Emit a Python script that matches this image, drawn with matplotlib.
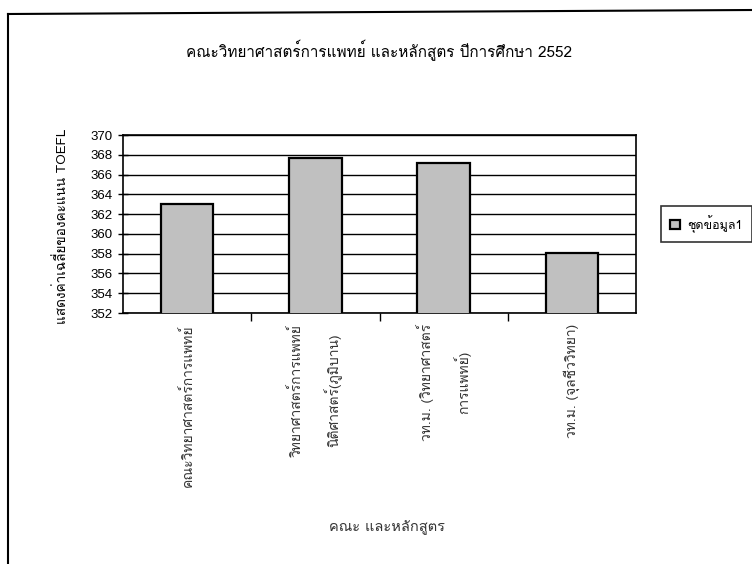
import matplotlib
matplotlib.use("Agg")
import matplotlib.pyplot as plt
from matplotlib import font_manager
from matplotlib.ft2font import FT2Font
from matplotlib.lines import Line2D

# ---- data ----
categories = [
    "คณะวิทยาศาสตร์การแพทย์",
    "วิทยาศาสตร์การแพทย์\nนิติศาสตร์(ภูมิบาน)",
    "วท.ม. (วิทยาศาสตร์\nการแพทย์)",
    "วท.ม. (จุลชีววิทยา)",
]
values = [363.0, 367.7, 367.2, 358.1]
yticks = [352, 354, 356, 358, 360, 362, 364, 366, 368, 370]
title = "คณะวิทยาศาสตร์การแพทย์ และหลักสูตร ปีการศึกษา 2552"
ylabel = "แสดงค่าเฉลี่ยของคะแนน TOEFL"
xlabel = "คณะ และหลักสูตร"
series_name = "ชุดข้อมูล1"

# ---- find a font with Thai glyphs ----
thai_font = None
seen = set()
for f in font_manager.fontManager.ttflist:
    if f.name in seen:
        continue
    try:
        cm = FT2Font(f.fname).get_charmap()
        if ord("ก") in cm and ord("ี") in cm:
            thai_font = f.name
            if "Thai" in f.name or "Loma" in f.name or "Garuda" in f.name:
                break
    except Exception:
        pass
    seen.add(f.name)

fams = ([thai_font] if thai_font else []) + ["Liberation Sans", "DejaVu Sans"]
plt.rcParams["font.family"] = fams

W, H = 752, 564
fig = plt.figure(figsize=(W / 100, H / 100), dpi=100)
ax = fig.add_axes([123 / W, 1 - 313 / H, (636 - 123) / W, (313 - 135) / H])

x = list(range(len(categories)))
ax.bar(x, values, width=0.41, bottom=0, color="#c0c0c0", edgecolor="black",
       linewidth=1.6, zorder=3, label=series_name)
ax.set_ylim(352, 370)
ax.set_xlim(-0.5, len(categories) - 0.5)
ax.set_yticks(yticks)
ax.set_yticklabels([str(t) for t in yticks], fontsize=9.5, family=["Liberation Sans"])
ax.yaxis.grid(True, color="black", linewidth=1.0, zorder=0)
ax.tick_params(axis="y", direction="inout", length=7, width=1, pad=4)

ax.set_xticks(x)
ax.set_xticklabels(categories, rotation=90, fontsize=10, color="#333333",
                   va="top", ha="center", multialignment="center",
                   linespacing=2.3)
ax.tick_params(axis="x", length=0, pad=8)
ax.set_xticks([i + 0.5 for i in range(len(categories) - 1)], minor=True)
ax.tick_params(axis="x", which="minor", direction="out", length=6, width=1)
for s in ax.spines.values():
    s.set_linewidth(1.2)
    s.set_color("black")

fig.text(379 / W, 1 - 50 / H, title, ha="center", va="center", fontsize=11)
fig.text(62 / W, 1 - 226 / H, ylabel, ha="center", va="center", rotation=90,
         fontsize=9.8)
fig.text(387 / W, 1 - 528 / H, xlabel, ha="center", va="center", fontsize=10.5,
         color="#333333")

leg = fig.legend(loc="center left", bbox_to_anchor=(655 / W, 1 - 224 / H),
                 frameon=True, fancybox=False, fontsize=9, handlelength=0.8,
                 handleheight=0.8, borderpad=0.7, handletextpad=0.6)
leg.get_frame().set_edgecolor("black")
leg.get_frame().set_linewidth(1.2)

# outer frame
fig.add_artist(Line2D([8 / W, 8 / W], [0, 1 - 14 / H], transform=fig.transFigure,
                      color="black", linewidth=1.5))
fig.add_artist(Line2D([8 / W, 1], [1 - 14 / H, 1 - 10 / H], transform=fig.transFigure,
                      color="black", linewidth=1.5))

fig.savefig("out.png", dpi=100)
